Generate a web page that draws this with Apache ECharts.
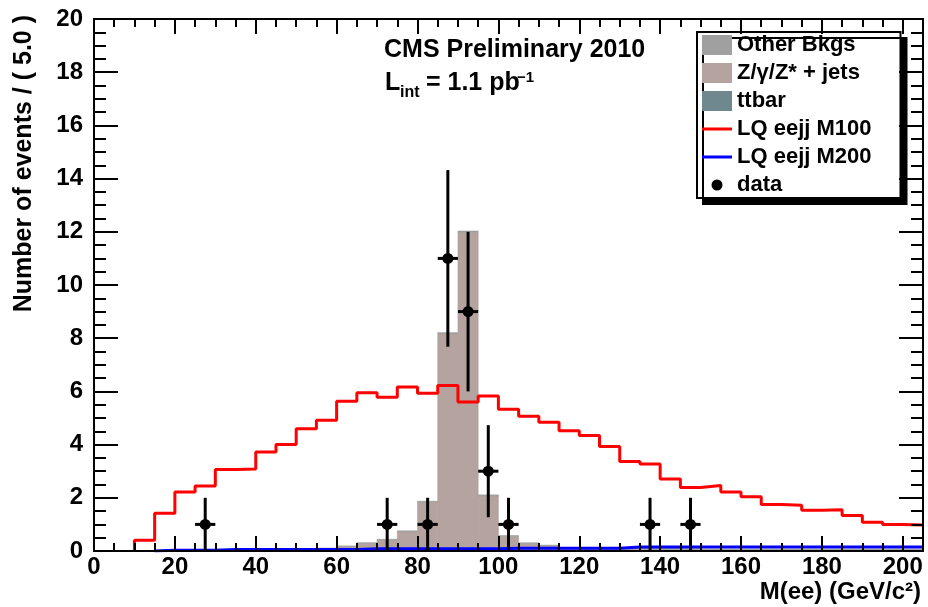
<!DOCTYPE html>
<html><head><meta charset="utf-8">
<script src="https://cdn.jsdelivr.net/npm/echarts@6/dist/echarts.min.js"></script>
<style>html,body{margin:0;padding:0;background:#fff}#c{width:928px;height:607px}</style>
</head><body><div id="c"></div>
<script>
// ---- data (41 bins of 5 GeV, 0..205) ----
const binLow = [0,5,10,15,20,25,30,35,40,45,50,55,60,65,70,75,80,85,90,95,100,105,110,115,120,125,130,135,140,145,150,155,160,165,170,175,180,185,190,195,200];
const binWidth = 5;
const lqM100 = [0,0,0.4,1.42,2.22,2.44,3.06,3.08,3.72,4.0,4.6,4.92,5.63,5.95,5.78,6.17,5.93,6.22,5.6,5.83,5.33,5.07,4.84,4.52,4.34,3.93,3.36,3.27,2.71,2.39,2.46,2.22,2.04,1.75,1.72,1.53,1.55,1.33,1.08,1.0,0.98];
const lqM200 = [0,0,0,0.03,0.03,0.03,0.06,0.06,0.06,0.06,0.06,0.06,0.06,0.08,0.08,0.08,0.08,0.08,0.08,0.08,0.1,0.1,0.1,0.1,0.1,0.1,0.15,0.15,0.15,0.15,0.15,0.15,0.15,0.15,0.15,0.15,0.15,0.15,0.15,0.15,0.15];
const ttbar = [0,0,0,0,0,0,0,0,0,0,0.01,0.01,0.02,0.02,0.02,0.02,0.02,0.02,0.02,0.02,0.02,0.02,0.02,0.02,0.02,0.02,0.02,0.02,0.02,0.01,0.01,0.01,0.01,0.01,0.01,0.01,0.01,0.01,0.01,0.01,0.01];
const zJets = [0,0,0,0,0,0,0,0,0,0,0.03,0.08,0.15,0.27,0.39,0.71,1.81,8.14,11.96,2.05,0.53,0.26,0.17,0.08,0.05,0.04,0.03,0.03,0.03,0.03,0.02,0.02,0.02,0.02,0.02,0.02,0.02,0.02,0.02,0.02,0.02];
const otherBkgs = [0,0,0,0,0,0,0,0,0,0,0.01,0.02,0.02,0.02,0.03,0.03,0.04,0.05,0.05,0.04,0.03,0.03,0.03,0.03,0.04,0.05,0.06,0.08,0.08,0.05,0.04,0.04,0.04,0.04,0.04,0.04,0.04,0.04,0.04,0.04,0.04];
const dataX = [27.5,72.5,82.5,87.5,92.5,97.5,102.5,137.5,147.5];
const dataY = [1,1,1,11,9,3,1,1,1];
const dataErr = [1,1,1,3.32,3,1.73,1,1,1];
const yTicks = [0,2,4,6,8,10,12,14,16,18,20];
const xTicks = [0,20,40,60,80,100,120,140,160,180,200];

// ---- build stacked rectangles ----
const stackOrder = [ttbar, zJets, otherBkgs];
const stackBase = binLow.map(() => 0);
const stackRects = stackOrder.map(arr => arr.map((v, i) => {
  const b = stackBase[i]; stackBase[i] += v;
  return [binLow[i], binLow[i] + binWidth, b, b + v];
}).filter(r => r[3] > r[2]));

function stepPoints(arr) {
  let first = arr.findIndex(v => v > 0);
  const pts = [[binLow[first], 0]];
  for (let i = first; i < arr.length; i++) pts.push([binLow[i], arr[i]]);
  pts.push([binLow[arr.length - 1] + binWidth, arr[arr.length - 1]]);
  return pts;
}

function rectRenderer(color) {
  return function (params, api) {
    const p0 = api.coord([api.value(0), api.value(2)]);
    const p1 = api.coord([api.value(1), api.value(3)]);
    return { type: 'rect',
      shape: { x: p0[0], y: p1[1], width: p1[0] - p0[0], height: p0[1] - p1[1] },
      style: { fill: color, stroke: color, lineWidth: 0.6 } };
  };
}

const FONT = 'Liberation Sans, Arial, Helvetica, sans-serif';
const colTT = '#6f878e', colZ = '#b4a39e', colO = '#a0a0a0';
const lineIcon = 'path://M0,0L30,0L30,3L0,3Z';

const axisCommon = { axisLine: { show: true, onZero: false, lineStyle: { color: '#000', width: 2 } }, splitLine: { show: false }, z: 10 };

const chart = echarts.init(document.getElementById('c'), null, { renderer: 'canvas' });
chart.setOption({
  animation: false,
  backgroundColor: '#fff',
  grid: { left: 94, top: 19, width: 829, height: 532 },
  xAxis: [
    Object.assign({}, axisCommon, { type: 'value', position: 'bottom', min: 0, max: 205, interval: 20,
      axisTick: { inside: true, length: 15, lineStyle: { color: '#000', width: 2 } },
      axisLabel: { showMaxLabel: false, margin: 4, color: '#000', fontFamily: FONT, fontWeight: 'bold', fontSize: 24,
        formatter: v => xTicks.indexOf(v) >= 0 ? String(v) : '' } }),
    Object.assign({}, axisCommon, { type: 'value', position: 'bottom', min: 0, max: 205, interval: 5,
      axisTick: { inside: true, length: 8, lineStyle: { color: '#000', width: 2 } }, axisLabel: { show: false } }),
    Object.assign({}, axisCommon, { type: 'value', position: 'top', min: 0, max: 205, interval: 20,
      axisTick: { inside: true, length: 15, lineStyle: { color: '#000', width: 2 } }, axisLabel: { show: false } }),
    Object.assign({}, axisCommon, { type: 'value', position: 'top', min: 0, max: 205, interval: 5,
      axisTick: { inside: true, length: 8, lineStyle: { color: '#000', width: 2 } }, axisLabel: { show: false } })
  ],
  yAxis: [
    Object.assign({}, axisCommon, { type: 'value', position: 'left', min: 0, max: 20, interval: 2,
      axisTick: { inside: true, length: 24, lineStyle: { color: '#000', width: 2 } },
      minorTick: { show: true, splitNumber: 4, length: 12, lineStyle: { color: '#000', width: 2 } },
      axisLabel: { margin: 11, color: '#000', fontFamily: FONT, fontWeight: 'bold', fontSize: 24,
        formatter: v => yTicks.indexOf(v) >= 0 ? String(v) : '' } }),
    Object.assign({}, axisCommon, { type: 'value', position: 'right', min: 0, max: 20, interval: 2,
      axisTick: { inside: true, length: 24, lineStyle: { color: '#000', width: 2 } },
      minorTick: { show: true, splitNumber: 4, length: 12, lineStyle: { color: '#000', width: 2 } },
      axisLabel: { show: false } })
  ],
  legend: {
    orient: 'vertical', left: 697, top: 32, padding: [1, 29, 1, 5],
    itemWidth: 30, itemHeight: 20, itemGap: 4,
    backgroundColor: '#fff', borderColor: '#000', borderWidth: 2,
    shadowColor: '#000', shadowBlur: 0, shadowOffsetX: 6, shadowOffsetY: 6,
    textStyle: { color: '#000', fontFamily: FONT, fontWeight: 'bold', fontSize: 22, lineHeight: 24 },
    data: [
      { name: 'Other Bkgs', icon: 'rect' },
      { name: 'Z/γ/Z* + jets', icon: 'rect' },
      { name: 'ttbar', icon: 'rect' },
      { name: 'LQ eejj M100', icon: lineIcon, itemStyle: { color: '#ff0000' } },
      { name: 'LQ eejj M200', icon: lineIcon, itemStyle: { color: '#0000ff' } },
      { name: 'data', icon: 'path://M0,0M30,20M9.5,10A5.5,5.5,0,1,0,20.5,10A5.5,5.5,0,1,0,9.5,10Z' }
    ]
  },
  series: [
    { name: 'ttbar', type: 'custom', z: 2, clip: true, itemStyle: { color: colTT },
      encode: { x: [0, 1], y: [2, 3] }, data: stackRects[0], renderItem: rectRenderer(colTT) },
    { name: 'Z/γ/Z* + jets', type: 'custom', z: 2, clip: true, itemStyle: { color: colZ },
      encode: { x: [0, 1], y: [2, 3] }, data: stackRects[1], renderItem: rectRenderer(colZ) },
    { name: 'Other Bkgs', type: 'custom', z: 2, clip: true, itemStyle: { color: colO },
      encode: { x: [0, 1], y: [2, 3] }, data: stackRects[2], renderItem: rectRenderer(colO) },
    { name: 'LQ eejj M100', type: 'line', z: 3, step: 'end', symbol: 'none', showSymbol: false,
      lineStyle: { color: '#ff0000', width: 3 }, itemStyle: { color: '#ff0000' }, data: stepPoints(lqM100) },
    { name: 'LQ eejj M200', type: 'line', z: 3, step: 'end', symbol: 'none', showSymbol: false,
      lineStyle: { color: '#0000ff', width: 3 }, itemStyle: { color: '#0000ff' }, data: stepPoints(lqM200) },
    { name: 'data', type: 'custom', z: 4, clip: false, itemStyle: { color: '#000' },
      encode: { x: 0, y: 1 },
      data: dataX.map((x, i) => [x, dataY[i], dataErr[i]]),
      renderItem: function (params, api) {
        const x = api.value(0), y = api.value(1), e = api.value(2);
        const c = api.coord([x, y]);
        const t = api.coord([x, y + e]);
        const b = api.coord([x, Math.max(0, y - e)]);
        const l = api.coord([x - binWidth / 2, y]);
        const r = api.coord([x + binWidth / 2, y]);
        return { type: 'group', children: [
          { type: 'line', shape: { x1: c[0], y1: t[1], x2: c[0], y2: b[1] }, style: { stroke: '#000', lineWidth: 3 } },
          { type: 'line', shape: { x1: l[0], y1: c[1], x2: r[0], y2: c[1] }, style: { stroke: '#000', lineWidth: 3 } },
          { type: 'circle', shape: { cx: c[0], cy: c[1], r: 5.5 }, style: { fill: '#000' } }
        ] };
      } }
  ],
  graphic: [
    { type: 'text', x: 24, y: 15, rotation: Math.PI / 2, z: 20,
      style: { text: 'Number of events / ( 5.0 )', fill: '#000', font: 'bold 25px ' + FONT, align: 'right', verticalAlign: 'middle' } },
    { type: 'text', x: 921, y: 592, z: 20,
      style: { text: 'M(ee) (GeV/c²)', fill: '#000', font: 'bold 24px ' + FONT, align: 'right', verticalAlign: 'middle' } },
    { type: 'text', x: 384, y: 50, z: 20,
      style: { text: 'CMS Preliminary 2010', fill: '#000', font: 'bold 25px ' + FONT, align: 'left', verticalAlign: 'middle' } },
    { type: 'text', x: 385, y: 83, z: 20,
      style: { text: 'L', fill: '#000', font: 'bold 25px ' + FONT, align: 'left', verticalAlign: 'middle' } },
    { type: 'text', x: 400, y: 93, z: 20,
      style: { text: 'int', fill: '#000', font: 'bold 16px ' + FONT, align: 'left', verticalAlign: 'middle' } },
    { type: 'text', x: 419, y: 83, z: 20,
      style: { text: ' = 1.1 pb', fill: '#000', font: 'bold 25px ' + FONT, align: 'left', verticalAlign: 'middle' } },
    { type: 'text', x: 517, y: 78, z: 20,
      style: { text: '−1', fill: '#000', font: 'bold 15px ' + FONT, align: 'left', verticalAlign: 'middle' } }
  ]
});
</script></body></html>
